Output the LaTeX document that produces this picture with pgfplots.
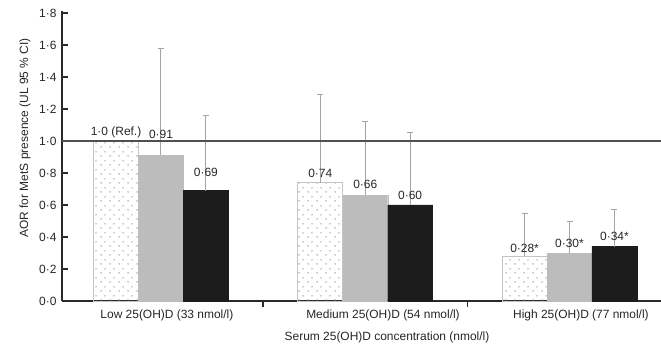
\documentclass[border=0pt]{standalone}
\usepackage{pgfplots}
\pgfplotsset{compat=1.18}
\usepackage{pgfplotstable}
\usepackage{fontspec}
\setmainfont{Liberation Sans}
\usetikzlibrary{patterns}
\definecolor{txt}{HTML}{262626}
\definecolor{axc}{HTML}{2A2A2A}
\definecolor{refl}{HTML}{505050}
\definecolor{barB}{HTML}{BCBCBC}
\definecolor{barC}{HTML}{1C1C1C}
\definecolor{errc}{HTML}{A4A4A4}
\definecolor{dotc}{HTML}{9C9C9C}
\definecolor{edgeA}{HTML}{C4C4C4}
\pgfdeclarepatternformonly{sparsedots}{\pgfqpoint{0bp}{0bp}}{\pgfqpoint{9bp}{9bp}}{\pgfqpoint{9bp}{9bp}}{%
  \pgfpathcircle{\pgfqpoint{2.25bp}{2.25bp}}{0.85bp}%
  \pgfpathcircle{\pgfqpoint{6.75bp}{6.75bp}}{0.85bp}%
  \pgfusepath{fill}}

\pgfplotstableread{
x y e
0 1.00 0
1 0.74 0.55
2 0.28 0.27
}\serA
\pgfplotstableread{
x y e
0 0.91 0.67
1 0.66 0.46
2 0.30 0.20
}\serB
\pgfplotstableread{
x y e
0 0.69 0.47
1 0.60 0.45
2 0.34 0.23
}\serC
\pgfplotstableread[col sep=semicolon]{
x;y;lab
-0.22;1.056;1·0 (Ref.)
0;1.044;0·91
0.22;0.806;0·69
0.78;0.80;0·74
1.0;0.731;0·66
1.22;0.6625;0·60
1.78;0.331;0·28*
2.0;0.3625;0·30*
2.22;0.406;0·34*
}\labtab
\pgfplotstableread{
x y
-0.4847 1
2.448 1
}\refline

\begin{document}
\begin{tikzpicture}
\begin{axis}[
  scale only axis, width=599bp, height=289.6bp,
  xmin=-0.4847, xmax=2.448, ymin=0, ymax=1.81,
  axis x line=bottom, axis y line=left,
  axis line style={-, draw=axc, line width=1.8bp},
  ytick={0,0.2,0.4,0.6,0.8,1.0,1.2,1.4,1.6,1.8},
  yticklabels={0·0,0·2,0·4,0·6,0·8,1·0,1·2,1·4,1·6,1·8},
  tick align=inside, major tick length=6bp,
  tick style={draw=axc, line width=1.5bp},
  xtick={0.5,1.5}, xticklabels={},
  extra x ticks={0.029,1.087,2.056},
  extra x tick labels={Low 25(OH)D (33 nmol/l),Medium 25(OH)D (54 nmol/l),High 25(OH)D (77 nmol/l)},
  extra x tick style={major tick length=0pt, tick style={draw=none}},
  xticklabel style={anchor=base, yshift=-17.5bp},
  tick label style={text=txt, font=\fontsize{12}{14}\selectfont},
  yticklabel style={xshift=-2bp},
  xlabel={Serum 25(OH)D concentration (nmol/l)},
  ylabel={AOR for MetS presence (UL 95 \% CI)},
  label style={text=txt, font=\fontsize{12}{14}\selectfont},
  xlabel style={at={(axis description cs:0.5426,-0.127)}, anchor=center},
  ylabel style={at={(axis description cs:-0.0618,0.563)}, anchor=center},
  ybar, bar width=0.22,
  error bars/y dir=plus, error bars/y explicit,
  error bars/error bar style={draw=errc, line width=1bp},
  error bars/error mark options={rotate=90, mark size=3bp, draw=errc, line width=1bp},
]
\addplot[bar shift=-0.22, draw=edgeA, line width=0.7bp, pattern=sparsedots, pattern color=dotc]
  table[x=x, y=y, y error=e] {\serA};
\addplot[bar shift=0, draw=barB, fill=barB]
  table[x=x, y=y, y error=e] {\serB};
\addplot[bar shift=0.22, draw=barC, fill=barC]
  table[x=x, y=y, y error=e] {\serC};
\addplot[sharp plot, draw=refl, line width=2.4bp, forget plot] table[x=x, y=y] {\refline};
\addplot[sharp plot, draw=none, mark=none, nodes near coords, point meta=explicit symbolic,
  every node near coord/.append style={anchor=center, yshift=0pt, inner sep=0pt, text=txt, font=\fontsize{12}{14}\selectfont}]
  table[x=x, y=y, meta=lab] {\labtab};
\end{axis}
\pgfresetboundingbox
\path[use as bounding box] ([xshift=-62bp,yshift=-46bp]current axis.south west) rectangle ([xshift=599bp,yshift=301bp]current axis.south west);
\end{tikzpicture}
\end{document}
